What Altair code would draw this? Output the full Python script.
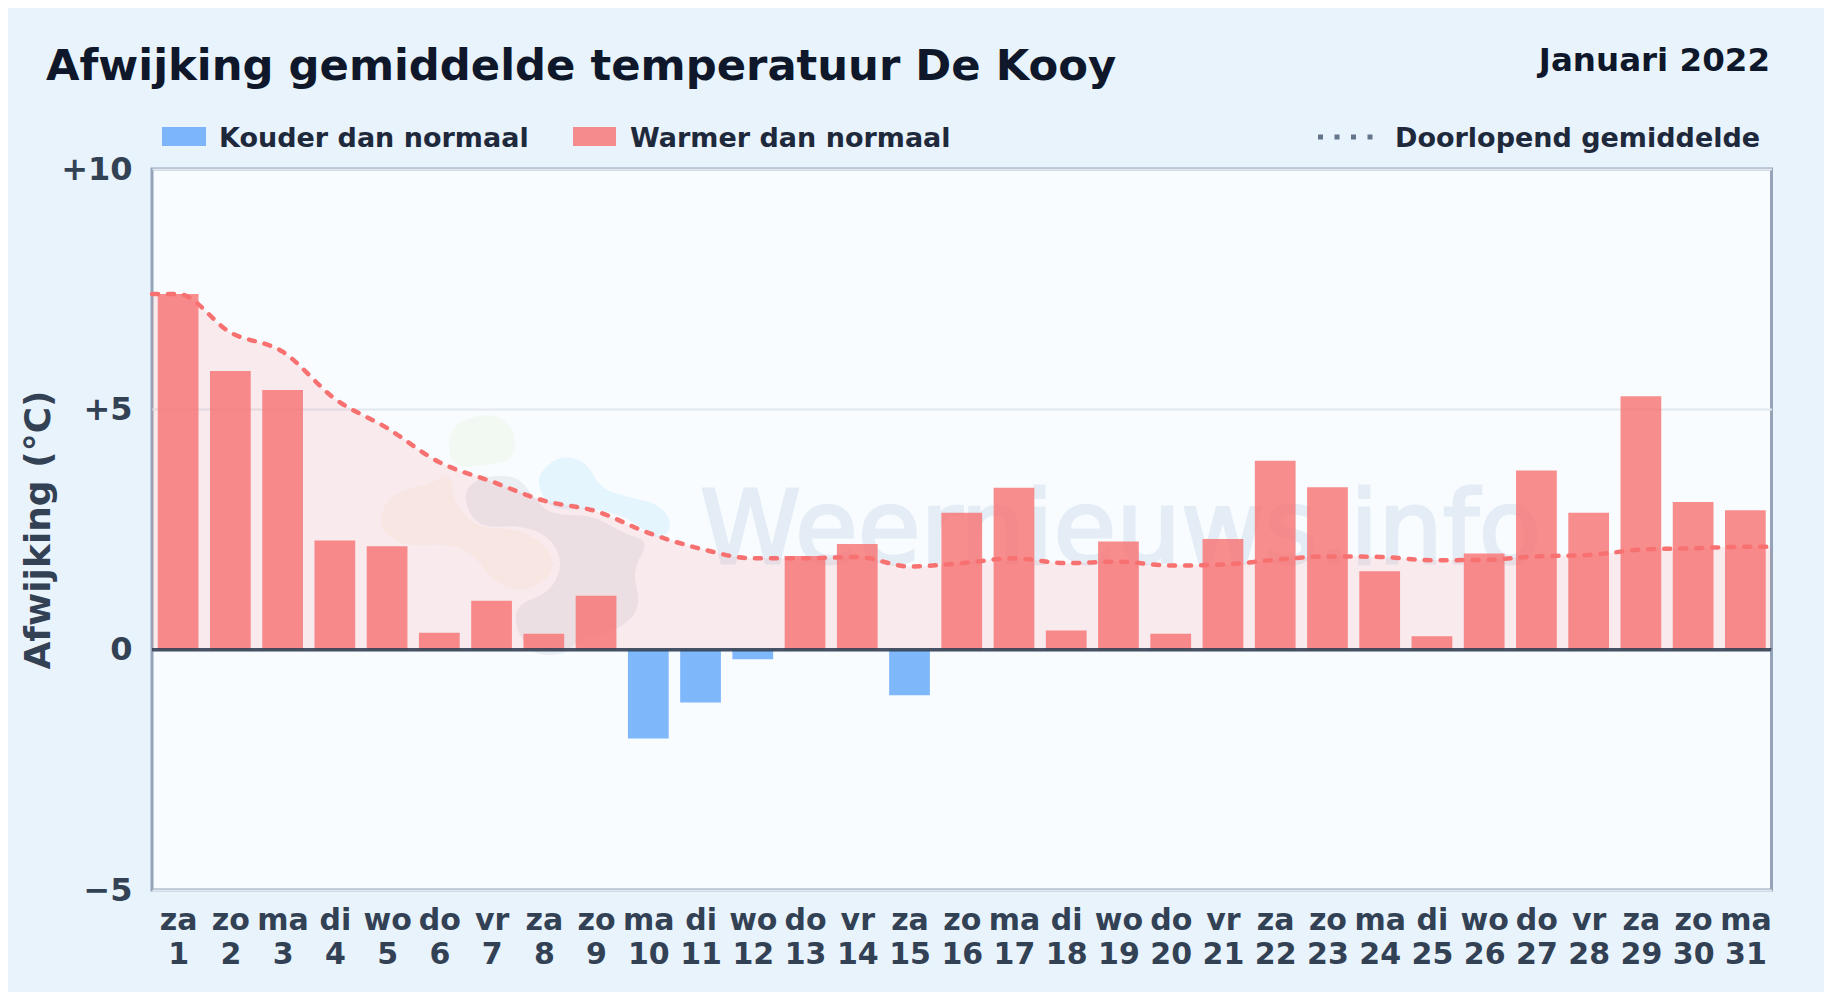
import json
import altair as alt
import pandas as pd

days = list(range(1, 32))
weekdays = ["za","zo","ma","di","wo","do","vr","za","zo","ma","di","wo","do","vr","za","zo","ma","di","wo","do","vr","za","zo","ma","di","wo","do","vr","za","zo","ma"]
deviation = [7.4,5.8,5.4,2.27,2.15,0.35,1.02,0.33,1.12,-1.85,-1.1,-0.2,1.95,2.2,-0.95,2.85,3.37,0.4,2.25,0.33,2.3,3.93,3.38,1.63,0.28,2.0,3.73,2.85,5.27,3.07,2.9]
running = [7.4,6.6,6.2,5.22,4.61,3.9,3.5,3.1,2.88,2.43,2.1,1.9,1.9,1.93,1.73,1.8,1.9,1.8,1.83,1.75,1.77,1.87,1.94,1.93,1.86,1.87,1.94,1.97,2.08,2.11,2.14]
line_days = [0.5] + days + [31.5]
line_vals = [running[0]] + running + [running[-1]]

TITLE = "Afwijking gemiddelde temperatuur De Kooy"
MONTH = "Januari 2022"
LEG_COLD = "Kouder dan normaal"
LEG_WARM = "Warmer dan normaal"
LEG_MEAN = "Doorlopend gemiddelde"
WATERMARK = "Weernieuws.info"
FONT = "DejaVu Sans"

# logo outlines, as zoomed-crop outline points
blob_green = [(265,110),(300,60),(390,40),(450,70),(470,130),(450,185),(370,195),(300,205),(268,170)]
blob_orange = [(60,340),(100,280),(215,250),(275,215),(280,310),(350,385),(480,385),(575,450),(580,530),(480,580),(395,540),(340,460),(260,430),(140,440),(70,400)]
blob_blue = [(530,225),(600,165),(680,185),(720,265),(800,290),(905,315),(940,380),(895,425),(800,350),(700,325),(580,330),(545,285)]
blob_purple = [(305,280),(360,230),(470,225),(520,290),(570,345),(700,345),(790,400),(870,425),(815,510),(845,620),(780,690),(650,720),(620,765),(500,765),(450,620),(570,580),(610,490),(570,410),(480,375),(350,385)]

def path(points):
    # closed smooth outline; unit = 200 px, centred on the logo
    pts = [((x/3 + 360 - 490)/200, (y/3 + 400 - 530)/200) for x, y in points]
    n = len(pts)
    mid = lambda a, b: ((a[0]+b[0])/2, (a[1]+b[1])/2)
    s = mid(pts[-1], pts[0])
    d = f"M{s[0]:.4f},{s[1]:.4f}"
    for i in range(n):
        m = mid(pts[i], pts[(i+1) % n])
        d += f"Q{pts[i][0]:.4f},{pts[i][1]:.4f},{m[0]:.4f},{m[1]:.4f}"
    return d + "Z"

df = pd.DataFrame({"day": days, "wd": weekdays, "v": deviation})
df["kind"] = ["warm" if v >= 0 else "cold" for v in deviation]
ldf = pd.DataFrame({"day": line_days, "mean": line_vals})
zdf = pd.DataFrame({"v": [0]})
one = pd.DataFrame({"a": [1]})

LEFT, TOP, W, H = 152, 169, 1619.5, 721

xs = alt.Scale(domain=[0.5, 31.5], nice=False, zero=False, padding=0)
ys = alt.Scale(domain=[-5, 10], nice=False, zero=False, padding=0)

label_expr = "[" + json.dumps(weekdays) + "[datum.value-1], '' + datum.value]"
xaxis = alt.Axis(values=days, labelExpr=label_expr, title=None, grid=False, domain=False, ticks=False,
                 labelFontSize=30, labelFontWeight="bold", labelColor="#334155", labelFont=FONT,
                 labelPadding=15, labelLineHeight=34, labelOverlap=False, labelFlush=False, labelBound=False,
                 labelBaseline="top")
yaxis = alt.Axis(values=[-5, 0, 5, 10], title="Afwijking (°C)", domain=False, ticks=False, grid=True,
                 gridColor="#e2e8f0", gridWidth=2,
                 labelExpr="datum.value > 0 ? '+' + datum.value : (datum.value < 0 ? '−' + abs(datum.value) : '0')",
                 labelFontSize=32, labelFontWeight="bold", labelColor="#334155", labelFont=FONT, labelPadding=20,
                 titleFontSize=36, titleFontWeight="bold", titleColor="#334155", titleFont=FONT, titlePadding=3)


def text(s, px, py, size, color, align="left", weight="bold", baseline="alphabetic", opacity=1, stroke=0):
    props = dict(font=FONT, fontSize=size, fontWeight=weight, color=color, align=align, baseline=baseline, opacity=opacity)
    if stroke:
        props.update(stroke=color, strokeWidth=stroke)
    return alt.Chart(one).mark_text(**props).encode(
        x=alt.value(px - LEFT), y=alt.value(py - TOP), text=alt.value(s))


def blob(points, color, op):
    return alt.Chart(one).mark_point(filled=True, shape=path(points), size=160000, color=color, opacity=op, strokeWidth=0).encode(
        x=alt.value(490 - LEFT), y=alt.value(530 - TOP))


def swatch(x0, x1, color):
    return alt.Chart(one).mark_rect(color=color, opacity=0.8).encode(
        x=alt.value(x0 - LEFT), x2=alt.value(x1 - LEFT), y=alt.value(127 - TOP), y2=alt.value(146 - TOP))


base_y = alt.Chart(df).mark_bar(opacity=0).encode(x=alt.X("day:Q", scale=xs, axis=xaxis), y=alt.Y("v:Q", scale=ys, axis=yaxis))

area = alt.Chart(ldf).mark_area(color="#f87171", opacity=0.13, interpolate="monotone").encode(
    x=alt.X("day:Q", scale=xs), y=alt.Y("mean:Q", scale=ys), y2=alt.datum(0))
bars = alt.Chart(df).transform_calculate(x0="datum.day-0.39", x1="datum.day+0.39").mark_bar(opacity=0.8).encode(
    x=alt.X("x0:Q", scale=xs), x2="x1:Q", y=alt.Y("v:Q", scale=ys), y2=alt.datum(0),
    color=alt.Color("kind:N", scale=alt.Scale(domain=["cold", "warm"], range=["#60a5fa", "#f87171"]), legend=None))
line = alt.Chart(ldf).mark_line(color="#f87171", strokeWidth=4.5, strokeDash=[6, 10], strokeCap="round", interpolate="monotone").encode(
    x=alt.X("day:Q", scale=xs), y=alt.Y("mean:Q", scale=ys))
zero = alt.Chart(zdf).mark_rule(color="#334155", strokeWidth=3.5, opacity=0.9).encode(y=alt.Y("v:Q", scale=ys))
mean_key = alt.Chart(one).mark_rule(color="#64748b", strokeWidth=5, strokeDash=[5, 11.5]).encode(
    x=alt.value(1318 - LEFT), x2=alt.value(1374 - LEFT), y=alt.value(137 - TOP))

chart = alt.layer(
    base_y,
    blob(blob_green, "#84cc16", 0.05),
    blob(blob_orange, "#f59e0b", 0.055),
    blob(blob_blue, "#38bdf8", 0.1),
    blob(blob_purple, "#475569", 0.075),
    text(WATERMARK, 700, 563, 102, "#2563a8", weight="normal", opacity=0.09, stroke=3),
    area, bars, line, zero,
    text(TITLE, 46, 80, 43.3, "#0f172a"),
    text(MONTH, 1770, 71, 32.5, "#0f172a", align="right"),
    swatch(162, 206, "#60a5fa"), text(LEG_COLD, 219, 147, 27, "#1e293b"),
    swatch(573, 616, "#f87171"), text(LEG_WARM, 630, 147, 27, "#1e293b"),
    mean_key, text(LEG_MEAN, 1395, 147, 27, "#1e293b"),
).properties(
    width=W, height=H, background="#e8f3fc",
    padding={"left": 144, "top": 161, "right": 52.5, "bottom": 102},
    autosize=alt.AutoSizeParams(type="none"),
).configure_view(fill="#f8fcff", stroke="#94a3b8", strokeWidth=3)

chart.save("out.html", embed_options={"renderer": "svg", "actions": False})
